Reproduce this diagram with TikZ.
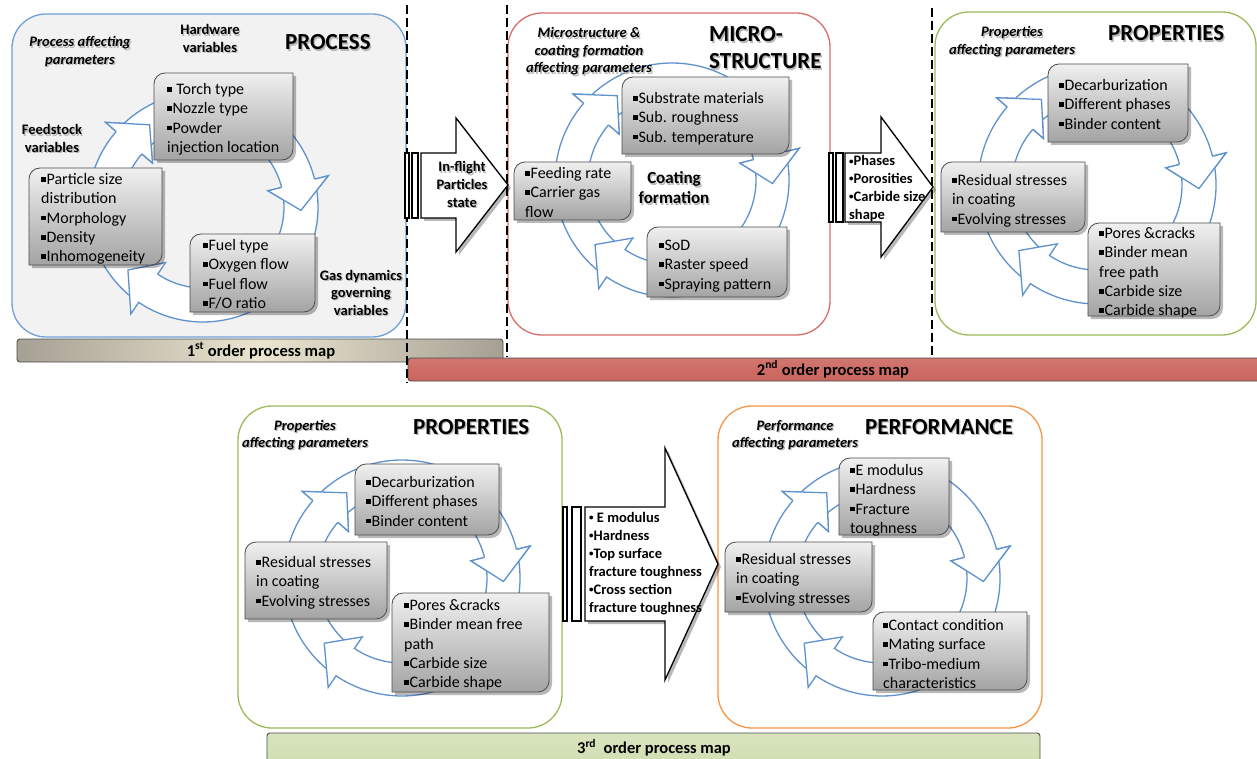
\documentclass[tikz,border=0pt]{standalone}
\usepackage{fontspec}
\setmainfont{Carlito}
\usetikzlibrary{calc}
\definecolor{ringblue}{RGB}{95,145,205}
\definecolor{procblue}{RGB}{110,160,215}
\definecolor{microred}{RGB}{215,110,105}
\definecolor{propgreen}{RGB}{155,187,89}
\definecolor{perforange}{RGB}{247,150,70}
\definecolor{panelgray}{RGB}{242,242,242}
\definecolor{baroneE}{RGB}{165,160,146}
\definecolor{baroneM}{RGB}{234,228,208}
\definecolor{bartwo}{RGB}{202,100,92}
\definecolor{barthree}{RGB}{207,221,174}
\newcommand\bul{\rule[0.18em]{0.28em}{0.28em}\kern0.06em}
\newcommand\sbul{\raisebox{0.12em}{\fontsize{9}{9}\selectfont •}}
\newcommand\ltab[1]{\begin{tabular}[t]{@{}l@{}}#1\end{tabular}}
\newcommand\ctab[1]{\begin{tabular}[t]{@{}c@{}}#1\end{tabular}}
\tikzset{
 panel/.style={rounded corners=34pt, line width=1.3pt},
 ringarrow/.style={draw=ringblue, fill=white, line width=1.3pt, line join=miter},
 ringline/.style={draw=ringblue, line width=1.3pt, line join=miter},
 boxshadow/.style={fill=black, opacity=0.28},
 boxshade/.style={top color=black!6, bottom color=black!36, draw=black!70, line width=0.8pt},
 boxtext/.style={anchor=base west, inner sep=0pt, font=\fontsize{16}{19.3}\selectfont},
 title/.style={anchor=base west, inner sep=0pt, font=\fontsize{23}{27}\selectfont\bfseries},
 lab/.style={anchor=base, inner sep=0pt, font=\fontsize{14.5}{17.5}\selectfont\bfseries},
 ilab/.style={anchor=base, inner sep=0pt, font=\fontsize{14.5}{17.5}\selectfont\bfseries\itshape},
 blockarrow/.style={draw=black, fill=white, line width=1.3pt, line join=miter},
 stripe/.style={draw=black, fill=white, line width=1.1pt},
 atext/.style={inner sep=0pt, font=\fontsize{14.5}{17.7}\selectfont\bfseries},
 bar/.style={draw=black!70, line width=0.9pt, rounded corners=3pt},
 bartext/.style={anchor=base, inner sep=0pt, font=\fontsize{16.5}{19}\selectfont\bfseries},
 sep/.style={draw=black, line width=2pt, dash pattern=on 9pt off 4pt},
}
\newcommand\stext[5]{%
  \node[#1, text=black!28] (#2-sh) at ({#3+1.3},{-#4-1.3}) {#5};
  \node[#1] (#2) at (#3,-#4) {#5};}
\newcommand\carrow[5]{%
  \filldraw[ringarrow] ({#1}:{#5}) arc[start angle=#1, end angle=#2, radius=#5]
    -- ({#2}:{#5+14}) -- ({#3}:{(#4+#5)/2}) -- ({#2}:{#4-14}) -- ({#2}:{#4})
    arc[start angle=#2, end angle=#1, radius=#4] -- cycle;}
\newcommand\chead[4]{%
  \fill[white] ({#1}:{#4+14}) -- ({#2}:{(#3+#4)/2}) -- ({#1}:{#3-14}) -- cycle;
  \draw[ringline] ({#1}:{#4}) -- ({#1}:{#4+14}) -- ({#2}:{(#3+#4)/2}) -- ({#1}:{#3-14}) -- ({#1}:{#3});}
\newcommand\cyc[4]{%
  \begin{scope}[shift={(#1,-#2)}]
    \carrow{234}{139}{123}{#3}{#4}
    \carrow{137}{14}{-2}{#3}{#4}
    \carrow{12}{-124}{-140}{#3}{#4}
    \chead{139}{123}{#3}{#4}
    \chead{14}{-2}{#3}{#4}
  \end{scope}}
\newcommand\diagpath[4]{(#1,-#4) -- (#1,{-#2-11}) arc[start angle=180,end angle=90,radius=11] -- (#3,-#2) -- (#3,{-#4+11}) arc[start angle=0,end angle=-90,radius=11] -- cycle}
\newcommand\gbox[4]{%
  \fill[boxshadow, shift={(3,-3)}] \diagpath{#1}{#2}{#3}{#4};
  \shadedraw[boxshade] \diagpath{#1}{#2}{#3}{#4};}
\begin{document}
\begin{tikzpicture}[x=1pt,y=1pt]
\useasboundingbox (0,0) rectangle (1257,-759);
\clip (0,0) rectangle (1257,-759);
\fill[white] (0,0) rectangle (1257,-759);

% ---------- panels
\draw[panel, draw=procblue, fill=panelgray] (12,-14) rectangle (406,-337);
\draw[panel, draw=microred, fill=white] (508,-13) rectangle (830,-335);
\draw[panel, draw=propgreen, fill=white] (935,-12) rectangle (1256,-335);
\draw[panel, draw=propgreen, fill=white] (238,-406) rectangle (562,-728);
\draw[panel, draw=perforange, fill=white] (718,-406) rectangle (1042,-728);

% ---------- order bars
\shadedraw[bar, left color=baroneE, right color=baroneE, middle color=baroneM] (17,-339) rectangle (503,-362);
\node[bartext] (map1) at (261,-356) {1\textsuperscript{st} order process map};
\shadedraw[bar, top color=bartwo!88!white, bottom color=bartwo] (408,-358) rectangle (1265,-381);
\node[bartext] (map2) at (833,-375) {2\textsuperscript{nd} order process map};
\shadedraw[bar, top color=barthree!80!white, bottom color=barthree] (267,-733) rectangle (1040,-770);
\node[bartext] (map3) at (654,-753.5) {3\textsuperscript{rd}\ \ order process map};

% ---------- separators
\draw[sep] (407,-5) -- (407,-383);
\draw[sep] (507,-5) -- (507,-357);
\draw[sep] (932,-8) -- (932,-355);

% ---------- PROCESS
\cyc{203}{207}{81}{115}
\gbox{154}{73}{293}{160}
\node[boxtext] (torch) at (167,-94.5) {\ltab{\bul\ Torch type\\\bul Nozzle type\\\bul Powder\\injection location}};
\gbox{29}{168}{162}{265}
\node[boxtext] (feed) at (41,-184.5) {\ltab{\bul Particle size\\distribution\\\bul Morphology\\\bul Density\\\bul Inhomogeneity}};
\gbox{190}{234}{315}{312}
\node[boxtext] (fuel) at (203,-250.5) {\ltab{\bul Fuel type\\\bul Oxygen flow\\\bul Fuel flow\\\bul F/O ratio}};
\stext{title}{tproc}{285}{50}{PROCESS}
\stext{ilab}{lproc}{80}{47}{\ctab{Process affecting\\parameters}}
\stext{lab}{lhw}{210}{35}{\ctab{Hardware\\variables}}
\stext{lab}{lfs}{52}{135}{\ctab{Feedstock\\variables}}
\stext{lab}{lgas}{361}{280}{\ctab{Gas dynamics\\governing\\variables}}

% ---------- MICROSTRUCTURE
\cyc{672}{180}{84}{117}
\gbox{622}{77}{789}{154}
\node[boxtext] (subs) at (633,-103.5) {\ltab{\bul Substrate materials\\\bul Sub. roughness\\\bul Sub. temperature}};
\gbox{514}{162}{631}{220}
\node[boxtext] (feeding) at (525,-178.5) {\ltab{\bul Feeding rate\\\bul Carrier gas\\flow}};
\gbox{647}{227}{787}{297}
\node[boxtext] (sod) at (659,-250.5) {\ltab{\bul SoD\\\bul Raster speed\\\bul Spraying pattern}};
\stext{title}{tmicro}{709}{42}{\begin{tabular}[t]{@{}l@{}}MICRO-\\STRUCTURE\end{tabular}}
\stext{ilab}{lmicro}{589}{38}{\ctab{Microstructure \&\\coating formation\\affecting parameters}}
\stext{lab, font=\fontsize{17}{20}\selectfont\bfseries}{lcoat}{674}{184}{\ctab{Coating\\formation}}

% ---------- PROPERTIES (top)
\cyc{1097}{185}{85}{119}
\gbox{1048}{64}{1188}{142}
\node[boxtext] (decA) at (1059,-90.5) {\ltab{\bul Decarburization\\\bul Different phases\\\bul Binder content}};
\gbox{941}{162}{1085}{232}
\node[boxtext] (resA) at (952,-185.5) {\ltab{\bul Residual stresses\\in coating\\\bul Evolving stresses}};
\gbox{1088}{223}{1220}{316}
\node[boxtext] (poreA) at (1099,-238.5) {\ltab{\bul Pores \&cracks\\\bul Binder mean\\free path\\\bul Carbide size\\\bul Carbide shape}};
\stext{title}{tpropA}{1108}{41}{PROPERTIES}
\stext{ilab}{lpropA}{1012}{37}{\ctab{Properties\\affecting parameters}}

% ---------- PROPERTIES (bottom)
\cyc{402}{578}{85}{118}
\gbox{355}{464}{499}{535}
\node[boxtext] (decB) at (366,-487.5) {\ltab{\bul Decarburization\\\bul Different phases\\\bul Binder content}};
\gbox{245}{542}{387}{619}
\node[boxtext] (resB) at (256,-567.5) {\ltab{\bul Residual stresses\\in coating\\\bul Evolving stresses}};
\gbox{392}{593}{549}{692}
\node[boxtext] (poreB) at (404,-610.5) {\ltab{\bul Pores \&cracks\\\bul Binder mean free\\path\\\bul Carbide size\\\bul Carbide shape}};
\stext{title}{tpropB}{413}{434}{PROPERTIES}
\stext{ilab}{lpropB}{305}{430}{\ctab{Properties\\affecting parameters}}

% ---------- PERFORMANCE
\cyc{882}{578}{85}{118}
\gbox{839}{458}{949}{535}
\node[boxtext] (emod) at (850,-475.5) {\ltab{\bul E modulus\\\bul Hardness\\\bul Fracture\\toughness}};
\gbox{725}{542}{872}{612}
\node[boxtext] (resC) at (736,-564.5) {\ltab{\bul Residual stresses\\in coating\\\bul Evolving stresses}};
\gbox{873}{612}{1027}{690}
\node[boxtext] (contact) at (883,-630.5) {\ltab{\bul Contact condition\\\bul Mating surface\\\bul Tribo-medium\\characteristics}};
\stext{title}{tperf}{865}{434}{PERFORMANCE}
\stext{ilab}{lperf}{795}{430}{\ctab{Performance\\affecting parameters}}

% ---------- block arrows
\fill[boxshadow, shift={(3,-3)}] (421,-153) -- (456,-153) -- (456,-118) -- (508,-185) -- (456,-252) -- (456,-218) -- (421,-218) -- cycle;
\draw[blockarrow] (421,-153) -- (456,-153) -- (456,-118) -- (508,-185) -- (456,-252) -- (456,-218) -- (421,-218) -- cycle;
\draw[stripe] (405,-153) rectangle (409,-218);
\draw[stripe] (412,-153) rectangle (418,-218);
\stext{atext, anchor=base}{aflight}{462}{172}{\ctab{In-flight\\Particles\\state}}

\fill[boxshadow, shift={(3,-3)}] (845,-153) -- (881,-153) -- (881,-117) -- (933,-187) -- (881,-257) -- (881,-222) -- (845,-222) -- cycle;
\draw[blockarrow] (845,-153) -- (881,-153) -- (881,-117) -- (933,-187) -- (881,-257) -- (881,-222) -- (845,-222) -- cycle;
\draw[stripe] (829,-153) rectangle (833,-222);
\draw[stripe] (836,-153) rectangle (843,-222);
\node[atext, anchor=base west] (aphase) at (849,-166) {\ltab{\sbul Phases\\\sbul Porosities\\\sbul Carbide size\\shape}};

\fill[boxshadow, shift={(3,-3)}] (585,-507) -- (665,-507) -- (665,-448) -- (718,-564) -- (665,-680) -- (665,-621) -- (585,-621) -- cycle;
\draw[blockarrow] (585,-507) -- (665,-507) -- (665,-448) -- (718,-564) -- (665,-680) -- (665,-621) -- (585,-621) -- cycle;
\draw[stripe] (563,-507) rectangle (567,-621);
\draw[stripe] (572,-507) rectangle (581,-621);
\node[atext, anchor=base west, font=\fontsize{14.5}{18}\selectfont\bfseries] (aemod) at (589,-522) {\ltab{\sbul\ E modulus\\\sbul Hardness\\\sbul Top surface\\fracture toughness\\\sbul Cross section\\fracture toughness}};
\end{tikzpicture}
\end{document}
